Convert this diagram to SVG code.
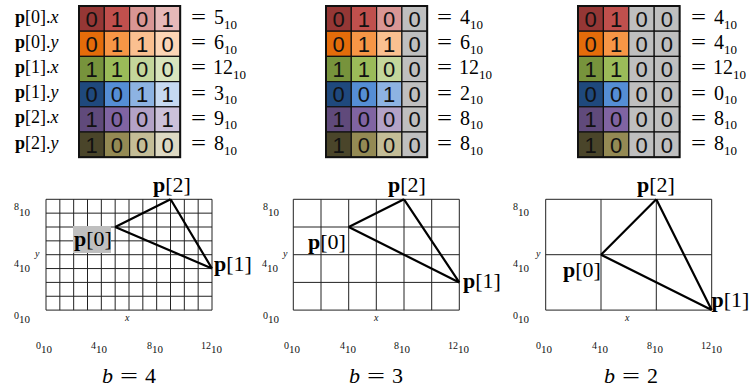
<svg xmlns="http://www.w3.org/2000/svg" width="749" height="391" viewBox="0 0 749 391">
<style>
.bg{fill:#fff}
.cell{stroke:#111;stroke-width:1.2}
.frame{fill:none;stroke:#111;stroke-width:2}
.bit{font-family:"Liberation Sans",Arial,sans-serif;font-size:22px;fill:#111;text-anchor:middle}
.lab{font-family:"Liberation Serif","Times New Roman",serif;font-size:18px;fill:#000}
.eq{font-family:"Liberation Serif","Times New Roman",serif;font-size:20px;fill:#000}
.sub{font-size:13px}
.pt{font-family:"Liberation Serif","Times New Roman",serif;font-size:22px;fill:#000}
.ax{font-family:"Liberation Serif","Times New Roman",serif;font-size:10px;fill:#111}
.axs{font-size:11px}
.grid{fill:none;stroke:#222;stroke-width:1}
.edge{stroke:#000;stroke-width:2.2;fill:none;stroke-linejoin:round}
.cap{font-family:"Liberation Serif","Times New Roman",serif;font-size:22px;fill:#000}
.r0a{fill:#953735}.r0b{fill:#C0504D}.r0c{fill:#D99694}.r0d{fill:#E6B9B8}
.r1a{fill:#E46C0A}.r1b{fill:#F79646}.r1c{fill:#FAC090}.r1d{fill:#FCD5B5}
.r2a{fill:#77933C}.r2b{fill:#9BBB59}.r2c{fill:#C3D69B}.r2d{fill:#D7E4BD}
.r3a{fill:#1F497D}.r3b{fill:#558ED5}.r3c{fill:#8DB3E2}.r3d{fill:#C6D9F1}
.r4a{fill:#604A7B}.r4b{fill:#8064A2}.r4c{fill:#B3A2C7}.r4d{fill:#CCC1DA}
.r5a{fill:#4A452A}.r5b{fill:#948A54}.r5c{fill:#C4BD97}.r5d{fill:#DDD9C3}
.gy{fill:#BFBFBF}
</style>
<defs>
<text id="eqs" class="eq" textLength="15" lengthAdjust="spacingAndGlyphs">=</text>
</defs>
<rect class="bg" x="0" y="0" width="749" height="391"/>

<!-- row labels -->
<g id="row-labels">
<text class="lab" x="15" y="22.5"><tspan font-weight="bold">p</tspan>[0].<tspan font-style="italic">x</tspan></text>
<text class="lab" x="15" y="47.7"><tspan font-weight="bold">p</tspan>[0].<tspan font-style="italic">y</tspan></text>
<text class="lab" x="15" y="72.9"><tspan font-weight="bold">p</tspan>[1].<tspan font-style="italic">x</tspan></text>
<text class="lab" x="15" y="98.1"><tspan font-weight="bold">p</tspan>[1].<tspan font-style="italic">y</tspan></text>
<text class="lab" x="15" y="123.3"><tspan font-weight="bold">p</tspan>[2].<tspan font-style="italic">x</tspan></text>
<text class="lab" x="15" y="148.5"><tspan font-weight="bold">p</tspan>[2].<tspan font-style="italic">y</tspan></text>
</g>

<!-- Table b=4 -->
<g id="table-b4">
<g transform="translate(79,6)">
<rect class="cell r0a" x="0" y="0" width="25.3" height="25.2"/><rect class="cell r0b" x="25.3" y="0" width="25.3" height="25.2"/><rect class="cell r0c" x="50.6" y="0" width="25.3" height="25.2"/><rect class="cell r0d" x="75.9" y="0" width="25.3" height="25.2"/>
<rect class="cell r1a" x="0" y="25.2" width="25.3" height="25.2"/><rect class="cell r1b" x="25.3" y="25.2" width="25.3" height="25.2"/><rect class="cell r1c" x="50.6" y="25.2" width="25.3" height="25.2"/><rect class="cell r1d" x="75.9" y="25.2" width="25.3" height="25.2"/>
<rect class="cell r2a" x="0" y="50.4" width="25.3" height="25.2"/><rect class="cell r2b" x="25.3" y="50.4" width="25.3" height="25.2"/><rect class="cell r2c" x="50.6" y="50.4" width="25.3" height="25.2"/><rect class="cell r2d" x="75.9" y="50.4" width="25.3" height="25.2"/>
<rect class="cell r3a" x="0" y="75.6" width="25.3" height="25.2"/><rect class="cell r3b" x="25.3" y="75.6" width="25.3" height="25.2"/><rect class="cell r3c" x="50.6" y="75.6" width="25.3" height="25.2"/><rect class="cell r3d" x="75.9" y="75.6" width="25.3" height="25.2"/>
<rect class="cell r4a" x="0" y="100.8" width="25.3" height="25.2"/><rect class="cell r4b" x="25.3" y="100.8" width="25.3" height="25.2"/><rect class="cell r4c" x="50.6" y="100.8" width="25.3" height="25.2"/><rect class="cell r4d" x="75.9" y="100.8" width="25.3" height="25.2"/>
<rect class="cell r5a" x="0" y="126" width="25.3" height="25.2"/><rect class="cell r5b" x="25.3" y="126" width="25.3" height="25.2"/><rect class="cell r5c" x="50.6" y="126" width="25.3" height="25.2"/><rect class="cell r5d" x="75.9" y="126" width="25.3" height="25.2"/>
<rect class="frame" x="0" y="0" width="101.2" height="151.2"/>
<text class="bit" y="20.5"><tspan x="12.6">0</tspan><tspan x="37.9">1</tspan><tspan x="63.2">0</tspan><tspan x="88.5">1</tspan></text>
<text class="bit" y="45.7"><tspan x="12.6">0</tspan><tspan x="37.9">1</tspan><tspan x="63.2">1</tspan><tspan x="88.5">0</tspan></text>
<text class="bit" y="70.9"><tspan x="12.6">1</tspan><tspan x="37.9">1</tspan><tspan x="63.2">0</tspan><tspan x="88.5">0</tspan></text>
<text class="bit" y="96.1"><tspan x="12.6">0</tspan><tspan x="37.9">0</tspan><tspan x="63.2">1</tspan><tspan x="88.5">1</tspan></text>
<text class="bit" y="121.3"><tspan x="12.6">1</tspan><tspan x="37.9">0</tspan><tspan x="63.2">0</tspan><tspan x="88.5">1</tspan></text>
<text class="bit" y="146.5"><tspan x="12.6">1</tspan><tspan x="37.9">0</tspan><tspan x="63.2">0</tspan><tspan x="88.5">0</tspan></text>
</g>
<g transform="translate(191,0)">
<text class="eq" y="24" textLength="15" lengthAdjust="spacingAndGlyphs">=</text><text class="eq" x="23" y="24">5<tspan class="sub" dy="4.5">10</tspan></text>
<text class="eq" y="49.2" textLength="15" lengthAdjust="spacingAndGlyphs">=</text><text class="eq" x="23" y="49.2">6<tspan class="sub" dy="4.5">10</tspan></text>
<text class="eq" y="74.4" textLength="15" lengthAdjust="spacingAndGlyphs">=</text><text class="eq" x="22" y="74.4">12<tspan class="sub" dy="4.5">10</tspan></text>
<text class="eq" y="99.6" textLength="15" lengthAdjust="spacingAndGlyphs">=</text><text class="eq" x="23" y="99.6">3<tspan class="sub" dy="4.5">10</tspan></text>
<text class="eq" y="124.8" textLength="15" lengthAdjust="spacingAndGlyphs">=</text><text class="eq" x="23" y="124.8">9<tspan class="sub" dy="4.5">10</tspan></text>
<text class="eq" y="150" textLength="15" lengthAdjust="spacingAndGlyphs">=</text><text class="eq" x="23" y="150">8<tspan class="sub" dy="4.5">10</tspan></text>
</g>
</g>

<!-- Table b=3 -->
<g id="table-b3">
<g transform="translate(326,6)">
<rect class="cell r0a" x="0" y="0" width="25.3" height="25.2"/><rect class="cell r0b" x="25.3" y="0" width="25.3" height="25.2"/><rect class="cell r0c" x="50.6" y="0" width="25.3" height="25.2"/><rect class="cell gy" x="75.9" y="0" width="25.3" height="25.2"/>
<rect class="cell r1a" x="0" y="25.2" width="25.3" height="25.2"/><rect class="cell r1b" x="25.3" y="25.2" width="25.3" height="25.2"/><rect class="cell r1c" x="50.6" y="25.2" width="25.3" height="25.2"/><rect class="cell gy" x="75.9" y="25.2" width="25.3" height="25.2"/>
<rect class="cell r2a" x="0" y="50.4" width="25.3" height="25.2"/><rect class="cell r2b" x="25.3" y="50.4" width="25.3" height="25.2"/><rect class="cell r2c" x="50.6" y="50.4" width="25.3" height="25.2"/><rect class="cell gy" x="75.9" y="50.4" width="25.3" height="25.2"/>
<rect class="cell r3a" x="0" y="75.6" width="25.3" height="25.2"/><rect class="cell r3b" x="25.3" y="75.6" width="25.3" height="25.2"/><rect class="cell r3c" x="50.6" y="75.6" width="25.3" height="25.2"/><rect class="cell gy" x="75.9" y="75.6" width="25.3" height="25.2"/>
<rect class="cell r4a" x="0" y="100.8" width="25.3" height="25.2"/><rect class="cell r4b" x="25.3" y="100.8" width="25.3" height="25.2"/><rect class="cell r4c" x="50.6" y="100.8" width="25.3" height="25.2"/><rect class="cell gy" x="75.9" y="100.8" width="25.3" height="25.2"/>
<rect class="cell r5a" x="0" y="126" width="25.3" height="25.2"/><rect class="cell r5b" x="25.3" y="126" width="25.3" height="25.2"/><rect class="cell r5c" x="50.6" y="126" width="25.3" height="25.2"/><rect class="cell gy" x="75.9" y="126" width="25.3" height="25.2"/>
<rect class="frame" x="0" y="0" width="101.2" height="151.2"/>
<text class="bit" y="20.5"><tspan x="12.6">0</tspan><tspan x="37.9">1</tspan><tspan x="63.2">0</tspan><tspan x="88.5">0</tspan></text>
<text class="bit" y="45.7"><tspan x="12.6">0</tspan><tspan x="37.9">1</tspan><tspan x="63.2">1</tspan><tspan x="88.5">0</tspan></text>
<text class="bit" y="70.9"><tspan x="12.6">1</tspan><tspan x="37.9">1</tspan><tspan x="63.2">0</tspan><tspan x="88.5">0</tspan></text>
<text class="bit" y="96.1"><tspan x="12.6">0</tspan><tspan x="37.9">0</tspan><tspan x="63.2">1</tspan><tspan x="88.5">0</tspan></text>
<text class="bit" y="121.3"><tspan x="12.6">1</tspan><tspan x="37.9">0</tspan><tspan x="63.2">0</tspan><tspan x="88.5">0</tspan></text>
<text class="bit" y="146.5"><tspan x="12.6">1</tspan><tspan x="37.9">0</tspan><tspan x="63.2">0</tspan><tspan x="88.5">0</tspan></text>
</g>
<g transform="translate(437,0)">
<text class="eq" y="24" textLength="15" lengthAdjust="spacingAndGlyphs">=</text><text class="eq" x="23" y="24">4<tspan class="sub" dy="4.5">10</tspan></text>
<text class="eq" y="49.2" textLength="15" lengthAdjust="spacingAndGlyphs">=</text><text class="eq" x="23" y="49.2">6<tspan class="sub" dy="4.5">10</tspan></text>
<text class="eq" y="74.4" textLength="15" lengthAdjust="spacingAndGlyphs">=</text><text class="eq" x="22" y="74.4">12<tspan class="sub" dy="4.5">10</tspan></text>
<text class="eq" y="99.6" textLength="15" lengthAdjust="spacingAndGlyphs">=</text><text class="eq" x="23" y="99.6">2<tspan class="sub" dy="4.5">10</tspan></text>
<text class="eq" y="124.8" textLength="15" lengthAdjust="spacingAndGlyphs">=</text><text class="eq" x="23" y="124.8">8<tspan class="sub" dy="4.5">10</tspan></text>
<text class="eq" y="150" textLength="15" lengthAdjust="spacingAndGlyphs">=</text><text class="eq" x="23" y="150">8<tspan class="sub" dy="4.5">10</tspan></text>
</g>
</g>

<!-- Table b=2 -->
<g id="table-b2">
<g transform="translate(578,6)">
<rect class="cell r0a" x="0" y="0" width="25.4" height="25.2"/><rect class="cell r0b" x="25.4" y="0" width="25.4" height="25.2"/><rect class="cell gy" x="50.8" y="0" width="25.4" height="25.2"/><rect class="cell gy" x="76.2" y="0" width="25.4" height="25.2"/>
<rect class="cell r1a" x="0" y="25.2" width="25.4" height="25.2"/><rect class="cell r1b" x="25.4" y="25.2" width="25.4" height="25.2"/><rect class="cell gy" x="50.8" y="25.2" width="25.4" height="25.2"/><rect class="cell gy" x="76.2" y="25.2" width="25.4" height="25.2"/>
<rect class="cell r2a" x="0" y="50.4" width="25.4" height="25.2"/><rect class="cell r2b" x="25.4" y="50.4" width="25.4" height="25.2"/><rect class="cell gy" x="50.8" y="50.4" width="25.4" height="25.2"/><rect class="cell gy" x="76.2" y="50.4" width="25.4" height="25.2"/>
<rect class="cell r3a" x="0" y="75.6" width="25.4" height="25.2"/><rect class="cell r3b" x="25.4" y="75.6" width="25.4" height="25.2"/><rect class="cell gy" x="50.8" y="75.6" width="25.4" height="25.2"/><rect class="cell gy" x="76.2" y="75.6" width="25.4" height="25.2"/>
<rect class="cell r4a" x="0" y="100.8" width="25.4" height="25.2"/><rect class="cell r4b" x="25.4" y="100.8" width="25.4" height="25.2"/><rect class="cell gy" x="50.8" y="100.8" width="25.4" height="25.2"/><rect class="cell gy" x="76.2" y="100.8" width="25.4" height="25.2"/>
<rect class="cell r5a" x="0" y="126" width="25.4" height="25.2"/><rect class="cell r5b" x="25.4" y="126" width="25.4" height="25.2"/><rect class="cell gy" x="50.8" y="126" width="25.4" height="25.2"/><rect class="cell gy" x="76.2" y="126" width="25.4" height="25.2"/>
<rect class="frame" x="0" y="0" width="101.6" height="151.2"/>
<text class="bit" y="20.5"><tspan x="12.7">0</tspan><tspan x="38.1">1</tspan><tspan x="63.5">0</tspan><tspan x="88.9">0</tspan></text>
<text class="bit" y="45.7"><tspan x="12.7">0</tspan><tspan x="38.1">1</tspan><tspan x="63.5">0</tspan><tspan x="88.9">0</tspan></text>
<text class="bit" y="70.9"><tspan x="12.7">1</tspan><tspan x="38.1">1</tspan><tspan x="63.5">0</tspan><tspan x="88.9">0</tspan></text>
<text class="bit" y="96.1"><tspan x="12.7">0</tspan><tspan x="38.1">0</tspan><tspan x="63.5">0</tspan><tspan x="88.9">0</tspan></text>
<text class="bit" y="121.3"><tspan x="12.7">1</tspan><tspan x="38.1">0</tspan><tspan x="63.5">0</tspan><tspan x="88.9">0</tspan></text>
<text class="bit" y="146.5"><tspan x="12.7">1</tspan><tspan x="38.1">0</tspan><tspan x="63.5">0</tspan><tspan x="88.9">0</tspan></text>
</g>
<g transform="translate(691,0)">
<text class="eq" y="24" textLength="15" lengthAdjust="spacingAndGlyphs">=</text><text class="eq" x="23" y="24">4<tspan class="sub" dy="4.5">10</tspan></text>
<text class="eq" y="49.2" textLength="15" lengthAdjust="spacingAndGlyphs">=</text><text class="eq" x="23" y="49.2">4<tspan class="sub" dy="4.5">10</tspan></text>
<text class="eq" y="74.4" textLength="15" lengthAdjust="spacingAndGlyphs">=</text><text class="eq" x="22" y="74.4">12<tspan class="sub" dy="4.5">10</tspan></text>
<text class="eq" y="99.6" textLength="15" lengthAdjust="spacingAndGlyphs">=</text><text class="eq" x="23" y="99.6">0<tspan class="sub" dy="4.5">10</tspan></text>
<text class="eq" y="124.8" textLength="15" lengthAdjust="spacingAndGlyphs">=</text><text class="eq" x="23" y="124.8">8<tspan class="sub" dy="4.5">10</tspan></text>
<text class="eq" y="150" textLength="15" lengthAdjust="spacingAndGlyphs">=</text><text class="eq" x="23" y="150">8<tspan class="sub" dy="4.5">10</tspan></text>
</g>
</g>

<!-- Grid b=4 -->
<g id="grid-b4">
<path class="grid" d="M46,199.3H212M46,213.15H212M46,227H212M46,240.85H212M46,254.7H212M46,268.55H212M46,282.4H212M46,296.25H212M46,310.1H212
M46,199.3V310.1M59.83,199.3V310.1M73.67,199.3V310.1M87.5,199.3V310.1M101.33,199.3V310.1M115.17,199.3V310.1M129,199.3V310.1M142.83,199.3V310.1M156.67,199.3V310.1M170.5,199.3V310.1M184.33,199.3V310.1M198.17,199.3V310.1M212,199.3V310.1"/>
<text class="ax" x="14" y="210">8<tspan class="axs" dy="6">10</tspan></text>
<text class="ax" x="14" y="266.5">4<tspan class="axs" dy="5">10</tspan></text>
<text class="ax" x="14" y="318.5">0<tspan class="axs" dy="4.5">10</tspan></text>
<text class="ax" x="35" y="257" font-style="italic">y</text>
<text class="ax" x="125" y="320.5" font-style="italic">x</text>
<text class="ax" x="36" y="349">0<tspan class="axs" dy="4">10</tspan></text>
<text class="ax" x="91" y="349">4<tspan class="axs" dy="4">10</tspan></text>
<text class="ax" x="147" y="349">8<tspan class="axs" dy="4">10</tspan></text>
<text class="ax" x="201" y="349">12<tspan class="axs" dy="4">10</tspan></text>
</g>

<!-- Grid b=3 -->
<g id="grid-b3">
<path class="grid" d="M293.3,199.3H459.3M293.3,227H459.3M293.3,254.7H459.3M293.3,282.4H459.3M293.3,310.1H459.3
M293.3,199.3V310.1M321,199.3V310.1M348.7,199.3V310.1M376.3,199.3V310.1M404,199.3V310.1M431.7,199.3V310.1M459.3,199.3V310.1"/>
<text class="ax" x="263" y="210">8<tspan class="axs" dy="6">10</tspan></text>
<text class="ax" x="262" y="266.5">4<tspan class="axs" dy="5">10</tspan></text>
<text class="ax" x="263" y="318.5">0<tspan class="axs" dy="4.5">10</tspan></text>
<text class="ax" x="283" y="257" font-style="italic">y</text>
<text class="ax" x="374" y="320.5" font-style="italic">x</text>
<text class="ax" x="284" y="349">0<tspan class="axs" dy="4">10</tspan></text>
<text class="ax" x="340" y="349">4<tspan class="axs" dy="4">10</tspan></text>
<text class="ax" x="394" y="349">8<tspan class="axs" dy="4">10</tspan></text>
<text class="ax" x="448" y="349">12<tspan class="axs" dy="4">10</tspan></text>
</g>

<!-- Grid b=2 -->
<g id="grid-b2">
<path class="grid" d="M545.7,199.3H711.7M545.7,254.7H711.7M545.7,310.1H711.7
M545.7,199.3V310.1M601,199.3V310.1M656.3,199.3V310.1M711.7,199.3V310.1"/>
<text class="ax" x="513" y="210">8<tspan class="axs" dy="6">10</tspan></text>
<text class="ax" x="513" y="266.5">4<tspan class="axs" dy="5">10</tspan></text>
<text class="ax" x="513" y="318.5">0<tspan class="axs" dy="4.5">10</tspan></text>
<text class="ax" x="536" y="257" font-style="italic">y</text>
<text class="ax" x="625" y="320.5" font-style="italic">x</text>
<text class="ax" x="536" y="349">0<tspan class="axs" dy="4">10</tspan></text>
<text class="ax" x="592" y="349">4<tspan class="axs" dy="4">10</tspan></text>
<text class="ax" x="647" y="349">8<tspan class="axs" dy="4">10</tspan></text>
<text class="ax" x="701" y="349">12<tspan class="axs" dy="4">10</tspan></text>
</g>

<!-- connectors: triangle edges -->
<g id="connectors">
<path class="edge" d="M115.2,227L212,268.5M212,268.5L170.6,199.3M170.6,199.3L115.2,227"/>
<path class="edge" d="M348.7,227L459.3,282.4M459.3,282.4L404,199.3M404,199.3L348.7,227"/>
<path class="edge" d="M601,254.7L711.7,310.1M711.7,310.1L656.3,199.3M656.3,199.3L601,254.7"/>
</g>

<!-- point labels -->
<g id="b4-p0"><rect x="73" y="226" width="38" height="27" fill="#BFBFBF"/><text class="pt" x="74" y="246"><tspan font-weight="bold">p</tspan>[0]</text></g>
<g id="b4-p1"><text class="pt" x="214" y="271"><tspan font-weight="bold">p</tspan>[1]</text></g>
<g id="b4-p2"><text class="pt" x="153" y="192"><tspan font-weight="bold">p</tspan>[2]</text></g>
<g id="b3-p0"><text class="pt" x="308" y="249"><tspan font-weight="bold">p</tspan>[0]</text></g>
<g id="b3-p1"><text class="pt" x="463" y="288"><tspan font-weight="bold">p</tspan>[1]</text></g>
<g id="b3-p2"><text class="pt" x="388" y="192"><tspan font-weight="bold">p</tspan>[2]</text></g>
<g id="b2-p0"><text class="pt" x="563" y="277"><tspan font-weight="bold">p</tspan>[0]</text></g>
<g id="b2-p1"><text class="pt" x="711.5" y="307" font-size="21"><tspan font-weight="bold">p</tspan>[1]</text></g>
<g id="b2-p2"><text class="pt" x="637" y="192"><tspan font-weight="bold">p</tspan>[2]</text></g>

<!-- captions -->
<g id="captions">
<text class="cap" x="102" y="383" font-style="italic">b</text><text class="cap" x="120" y="383" textLength="18" lengthAdjust="spacingAndGlyphs">=</text><text class="cap" x="145" y="383">4</text>
<text class="cap" x="349" y="383" font-style="italic">b</text><text class="cap" x="367" y="383" textLength="18" lengthAdjust="spacingAndGlyphs">=</text><text class="cap" x="392" y="383">3</text>
<text class="cap" x="604" y="383" font-style="italic">b</text><text class="cap" x="622" y="383" textLength="18" lengthAdjust="spacingAndGlyphs">=</text><text class="cap" x="647" y="383">2</text>
</g>
</svg>
